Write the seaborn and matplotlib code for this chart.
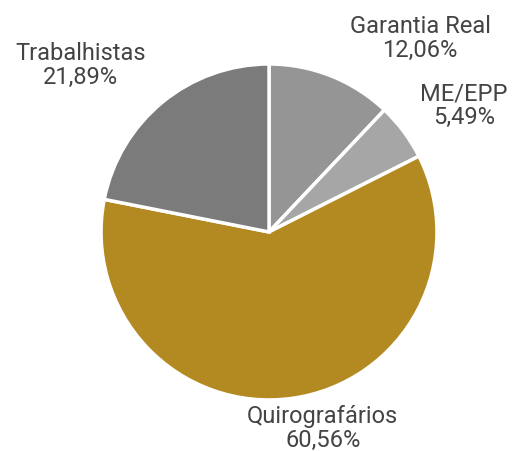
import matplotlib
matplotlib.use("Agg")
import matplotlib.pyplot as plt
import seaborn as sns

# Chart data
categories = ["Garantia Real", "ME/EPP", "Quirografários", "Trabalhistas"]
shares = [12.06, 5.49, 60.56, 21.89]
labels = ["Garantia Real\n12,06%", "ME/EPP\n5,49%", "Quirografários\n60,56%", "Trabalhistas\n21,89%"]

sns.set_theme(style="white")
plt.rcParams['font.family'] = ['Roboto', 'DejaVu Sans']

colors = ["#959595", "#a6a6a6", "#b38922", "#7b7b7b"]

fig = plt.figure(figsize=(5.13, 4.51), dpi=100)
ax = fig.add_axes([0, 0, 1, 1])

ax.pie(shares, colors=colors, startangle=90, counterclock=False,
       wedgeprops=dict(edgecolor="white", linewidth=2.5))

# label positions (radius units)
label_pos = [(0.90, 1.15), (1.16, 0.75), (0.32, -1.17), (-1.12, 0.99)]
for (x, y), txt in zip(label_pos, labels):
    ax.text(x, y, txt, ha="center", va="center", fontsize=17,
            color="#444444", linespacing=1.05)

ax.set_xlim(-1.601, 1.452)
ax.set_ylim(-1.304, 1.381)
ax.set_aspect("equal")
ax.axis("off")

fig.savefig("out.png", dpi=100)
